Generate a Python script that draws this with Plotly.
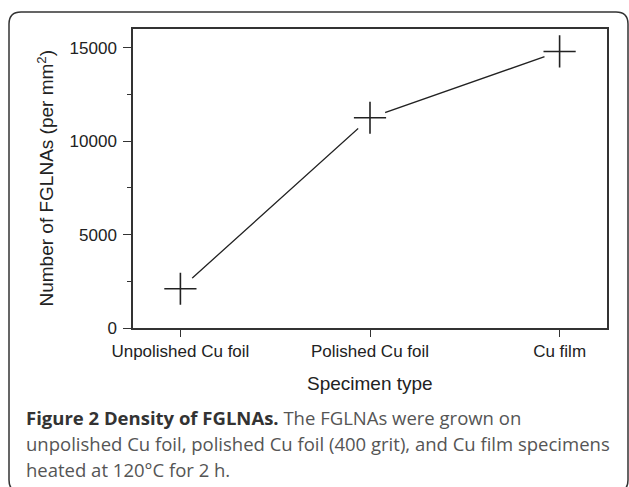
import plotly.graph_objects as go

categories = ["Unpolished Cu foil", "Polished Cu foil", "Cu film"]
densities = [2100, 11250, 14800]
y_tick_vals = [0, 5000, 10000, 15000]
y_tick_text = ["0", "5000", "10000", "15000"]

W, H = 629, 487
ML, MR, MT, MB = 133, 22, 29, 159
PW, PH = W - ML - MR, H - MT - MB


def px(x):
    return (x - ML) / PW


def py(y):
    return (H - MB - y) / PH


fig = go.Figure()
x_idx = list(range(len(categories)))

fig.add_trace(go.Scatter(x=x_idx, y=densities, mode="lines",
                         line=dict(color="#222222", width=1.3),
                         hoverinfo="skip", showlegend=False))
fig.add_trace(go.Scatter(x=x_idx, y=densities, mode="markers",
                         marker=dict(symbol="circle", size=32, color="white",
                                     line=dict(width=0)),
                         hoverinfo="skip", showlegend=False))
fig.add_trace(go.Scatter(x=x_idx, y=densities, mode="markers",
                         marker=dict(symbol="cross-thin", size=23, color="#222222",
                                     line=dict(color="#222222", width=1.6)),
                         showlegend=False))

axis_font = dict(family="Liberation Sans, Arial, sans-serif", size=17, color="#222222")

fig.update_xaxes(range=[-0.25, 2.25], tickmode="array", tickvals=x_idx,
                 ticktext=categories, ticks="outside", ticklen=7, tickwidth=1.3,
                 tickcolor="#333333", showline=True, linecolor="#333333",
                 linewidth=1.5, mirror=True, showgrid=False, zeroline=False,
                 tickfont=axis_font)
fig.update_yaxes(range=[0, 16000], tickmode="array", tickvals=y_tick_vals,
                 ticktext=y_tick_text, ticks="outside", ticklen=8, tickwidth=1.3,
                 tickcolor="#333333", showline=True, linecolor="#333333",
                 linewidth=1.5, mirror=True, showgrid=False, zeroline=False,
                 tickfont=axis_font, ticklabelstandoff=3,
                 minor=dict(tickvals=[2500, 7500, 12500], ticks="outside",
                            ticklen=4, tickwidth=1.2, tickcolor="#333333",
                            showgrid=False))

# rounded outer frame
x0, x1, y0, y1, r = 9, 628, 12, 492, 12
path = (f"M {px(x0)},{py(y0 + r)} "
        f"Q {px(x0)},{py(y0)} {px(x0 + r)},{py(y0)} "
        f"L {px(x1 - r)},{py(y0)} "
        f"Q {px(x1)},{py(y0)} {px(x1)},{py(y0 + r)} "
        f"L {px(x1)},{py(y1 - r)} "
        f"Q {px(x1)},{py(y1)} {px(x1 - r)},{py(y1)} "
        f"L {px(x0 + r)},{py(y1)} "
        f"Q {px(x0)},{py(y1)} {px(x0)},{py(y1 - r)} Z")
fig.add_shape(type="path", path=path, xref="paper", yref="paper",
              line=dict(color="#333333", width=1.5), layer="below")

title_font = dict(family="Liberation Sans, Arial, sans-serif", size=19, color="#222222")
fig.add_annotation(text="Number of FGLNAs (per mm<sup>2</sup>)", textangle=-90,
                   x=px(45), y=py(178.5), xref="paper", yref="paper",
                   xanchor="center", yanchor="middle", showarrow=False,
                   font=title_font)
fig.add_annotation(text="Specimen type", x=px(370), y=py(383),
                   xref="paper", yref="paper", xanchor="center", yanchor="middle",
                   showarrow=False, font=title_font)

cap_font = dict(family="Open Sans, sans-serif", size=18.5, color="#555555")
caption_lines = [
    "<b><span style='color:#333333'>Figure 2 Density of FGLNAs.</span></b> The FGLNAs were grown on",
    "unpolished Cu foil, polished Cu foil (400 grit), and Cu film specimens",
    "heated at 120°C for 2 h.",
]
for i, line in enumerate(caption_lines):
    fig.add_annotation(text=line, x=px(24), y=py(417 + 26 * i), xref="paper",
                       yref="paper", xanchor="left", yanchor="middle",
                       showarrow=False, font=cap_font, align="left")

fig.update_layout(width=W, height=H, margin=dict(l=ML, r=MR, t=MT, b=MB),
                  paper_bgcolor="white", plot_bgcolor="white")

fig.write_html("out.html")
